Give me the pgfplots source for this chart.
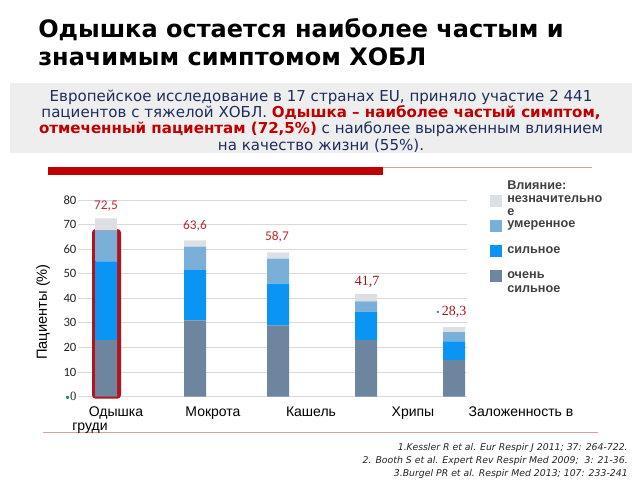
\documentclass[border=0pt]{standalone}
\usepackage{fontspec}
\usepackage{pgfplots}
\pgfplotsset{compat=1.18}
\setmainfont{Liberation Serif}
\newfontfamily\carlito{Carlito}
\newfontfamily\arial{Liberation Sans}
\newfontfamily\dejavu{DejaVu Sans}
\definecolor{cNeg}{HTML}{DCE0E5}
\definecolor{cMod}{HTML}{7AAFD8}
\definecolor{cStr}{HTML}{0A95F5}
\definecolor{cVst}{HTML}{6D859E}
\definecolor{navy}{HTML}{1F2D5C}
\definecolor{sred}{HTML}{C00000}
\definecolor{lblred}{HTML}{C0282D}
\definecolor{dred}{HTML}{A01818}
\definecolor{framered}{HTML}{B3141C}
\definecolor{dotgreen}{HTML}{1E8C6E}
\definecolor{boxgray}{HTML}{EEEEEE}
\definecolor{lnpink}{HTML}{D9A095}
\definecolor{leggray}{HTML}{404040}
\begin{document}
\begin{tikzpicture}
\begin{scope}[x=0.75pt,y=-0.75pt]
\fill[white] (0,0) rectangle (640,480);
% title
\node[anchor=base west, inner sep=0pt, font=\dejavu\bfseries\fontsize{18}{22}\selectfont] at (38,37) {Одышка остается наиболее частым и};
\node[anchor=base west, inner sep=0pt, font=\dejavu\bfseries\fontsize{18}{22}\selectfont] at (38,65) {значимым симптомом ХОБЛ};
% subtitle box
\fill[boxgray] (10,83) rectangle (632,153);
\begin{scope}[every node/.style={anchor=base, inner sep=0pt, text=navy, font=\dejavu\fontsize{11.3}{13}\selectfont}]
\node at (321,101) {Европейское исследование в 17 странах EU, приняло участие 2 441};
\node at (321,117) {пациентов с тяжелой ХОБЛ. {\color{sred}\bfseries Одышка – наиболее частый симптом,}};
\node at (321,133) {{\color{sred}\bfseries отмеченный пациентам (72,5\%)} с наиболее выраженным влиянием};
\node at (321,150) {на качество жизни (55\%).};
\end{scope}
% separator lines
\draw[lnpink, line width=0.75pt] (48,167) -- (592,167);
\fill[sred] (48,167) rectangle (383,175);
\draw[lnpink, line width=1pt] (43,432.5) -- (598,432.5);
% footnotes
\begin{scope}[every node/.style={anchor=base east, inner sep=0pt, text=black!85, font=\dejavu\itshape\fontsize{7}{8.5}\selectfont}]
\node at (628,450) {1.Kessler R et al. Eur Respir J 2011; 37: 264-722.};
\node at (628,463) {2. Booth S et al. Expert Rev Respir Med 2009;\ \ 3: 21-36.};
\node at (628,476) {3.Burgel PR et al. Respir Med 2013; 107: 233-241};
\end{scope}
\end{scope}

\begin{axis}[
  at={(58.5pt,-297.5pt)}, anchor=south west,
  scale only axis, width=291.75pt, height=147.5pt,
  xmin=78, xmax=467, ymin=0, ymax=80,
  xtick=\empty,
  ytick={0,10,20,30,40,50,60,70,80},
  yticklabels={{\textcolor{dotgreen}{\scriptsize\textbullet}{\rmfamily 0}},10,20,30,40,50,60,70,80},
  yticklabel style={font=\carlito\fontsize{9.5}{11}\selectfont, text=black!85, inner sep=1pt},
  ymajorgrids, grid style={draw=black!15, line width=0.75pt},
  axis line style={draw=none}, major tick length=0pt,
  ybar stacked, bar width=16.5pt,
  clip=false,
]
\addplot[fill=cVst, draw=none] coordinates {(106,23) (195,31) (278,29) (366,23) (454,15)};
\addplot[fill=cStr, draw=none] coordinates {(106,32) (195,20.5) (278,17) (366,11.6) (454,7.5)};
\addplot[fill=cMod, draw=none] coordinates {(106,12.5) (195,9.5) (278,10.2) (366,4.2) (454,3.8)};
\addplot[fill=cNeg, draw=none] coordinates {(106,5) (195,2.6) (278,2.5) (366,2.9) (454,2.0)};
\draw[framered, line width=3pt, rounded corners=1.5pt] (axis cs:94,0) rectangle (axis cs:119,67.4);
\end{axis}

\begin{scope}[x=0.75pt,y=-0.75pt]
% data labels
\node[text=lblred, font=\carlito\fontsize{10}{12}\selectfont, inner sep=0pt] at (106,206) {72,5};
\node[text=lblred, font=\carlito\fontsize{10}{12}\selectfont, inner sep=0pt] at (195,226) {63,6};
\node[text=lblred, font=\carlito\fontsize{10}{12}\selectfont, inner sep=0pt] at (277,237) {58,7};
\node[text=dred, font=\rmfamily\fontsize{10.5}{12}\selectfont, inner sep=0pt] at (367,282) {41,7};
\node[text=dred, font=\rmfamily\fontsize{10.5}{12}\selectfont, inner sep=0pt] at (454,312) {28,3};
\node[text=dotgreen, font=\scriptsize, inner sep=0pt] at (438,313) {\textbullet};
% y label
\node[rotate=90, inner sep=0pt, font=\arial\fontsize{11}{13}\selectfont] at (43,312) {Пациенты (\%)};
% category labels
\begin{scope}[every node/.style={anchor=base, inner sep=0pt, font=\arial\fontsize{10.5}{12}\selectfont}]
\node at (116,416) {Одышка};
\node at (90,430) {груди};
\node at (213,416) {Мокрота};
\node at (311,416) {Кашель};
\node at (413,416) {Хрипы};
\node at (521,416) {Заложенность в};
\end{scope}
% legend
\fill[cNeg] (490,195) rectangle (502,207);
\fill[cMod] (490,220) rectangle (502,232);
\fill[cStr] (490,245) rectangle (502,257);
\fill[cVst] (490,270) rectangle (502,282);
\begin{scope}[every node/.style={anchor=west, inner sep=0pt, text=leggray, font=\arial\bfseries\fontsize{9.5}{11}\selectfont}]
\node at (507,185) {Влияние:};
\node at (507,199) {незначительно};
\node at (507,212) {е};
\node at (507,225) {умеренное};
\node at (507,250) {сильное};
\node at (507,275) {очень};
\node at (507,289) {сильное};
\end{scope}
\end{scope}
\end{tikzpicture}
\end{document}
